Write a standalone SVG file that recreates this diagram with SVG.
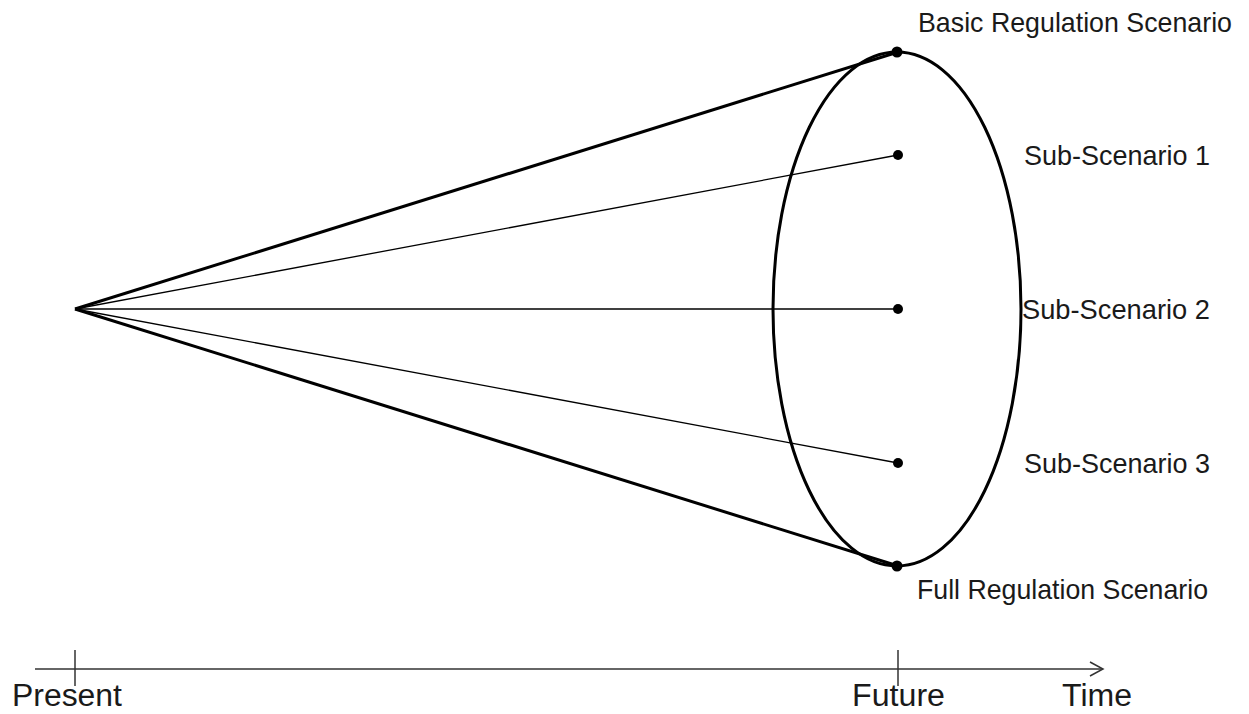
<svg xmlns="http://www.w3.org/2000/svg" width="1249" height="714" viewBox="0 0 1249 714">
<style>
.lbl{font-family:"Liberation Sans",Arial,sans-serif;font-size:28px;fill:#1a1a1a}
.ax{font-family:"Liberation Sans",Arial,sans-serif;font-size:31px;fill:#1a1a1a}
.thick{stroke:#000;stroke-width:3;fill:none}
.thin{stroke:#000;stroke-width:1.3;fill:none}
.dot{fill:#000}
</style>
<rect width="1249" height="714" fill="#fff"/>
<g id="connectors">
<line class="thick" x1="75" y1="309" x2="895" y2="53"/>
<line class="thick" x1="75" y1="309" x2="895" y2="565"/>
<line class="thin" x1="75" y1="309" x2="898" y2="155"/>
<line class="thin" x1="75" y1="309" x2="898" y2="309"/>
<line class="thin" x1="75" y1="309" x2="898" y2="463"/>
</g>
<g id="ellipse"><ellipse class="thick" cx="897" cy="309" rx="124" ry="257"/></g>
<g id="basic"><circle class="dot" cx="897" cy="52" r="5.5"/><text class="lbl" x="918" y="32" textLength="314" lengthAdjust="spacingAndGlyphs">Basic Regulation  Scenario</text></g>
<g id="sub1"><circle class="dot" cx="898" cy="155" r="5"/><text class="lbl" x="1024" y="165" textLength="186" lengthAdjust="spacingAndGlyphs">Sub-Scenario 1</text></g>
<g id="sub2"><circle class="dot" cx="898" cy="309" r="5"/><text class="lbl" x="1022" y="319" textLength="188" lengthAdjust="spacingAndGlyphs">Sub-Scenario 2</text></g>
<g id="sub3"><circle class="dot" cx="898" cy="463" r="5"/><text class="lbl" x="1024" y="473" textLength="186" lengthAdjust="spacingAndGlyphs">Sub-Scenario 3</text></g>
<g id="full"><circle class="dot" cx="897" cy="566" r="5.5"/><text class="lbl" x="917" y="599" textLength="291" lengthAdjust="spacingAndGlyphs">Full Regulation  Scenario</text></g>
<g id="axis">
<line x1="35" y1="669" x2="1102" y2="669" stroke="#333" stroke-width="1.5"/>
<polyline points="1090,662 1103,669 1090,676" fill="none" stroke="#333" stroke-width="1.5"/>
<line x1="75" y1="650" x2="75" y2="686" stroke="#333" stroke-width="1.5"/>
<line x1="898" y1="650" x2="898" y2="686" stroke="#333" stroke-width="1.5"/>
<text class="ax" x="12" y="706" textLength="110" lengthAdjust="spacingAndGlyphs">Present</text>
<text class="ax" x="852" y="706" textLength="93" lengthAdjust="spacingAndGlyphs">Future</text>
<text class="ax" x="1062" y="706" textLength="70" lengthAdjust="spacingAndGlyphs">Time</text>
</g>
</svg>
